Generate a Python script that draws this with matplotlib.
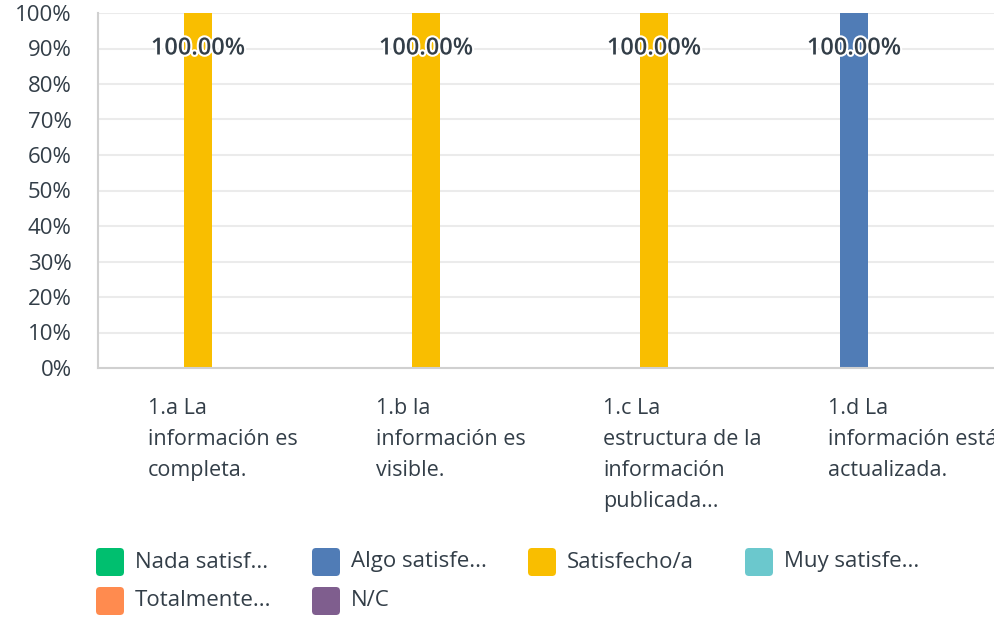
import matplotlib
matplotlib.use("Agg")
import matplotlib.pyplot as plt
import matplotlib.patheffects as pe
from matplotlib.patches import FancyBboxPatch
from matplotlib.transforms import blended_transform_factory, IdentityTransform
import numpy as np

plt.rcParams['font.family'] = ['Open Sans', 'DejaVu Sans']

# data
categories = [
    "1.a La\ninformación es\ncompleta.",
    "1.b la\ninformación es\nvisible.",
    "1.c La\nestructura de la\ninformación\npublicada...",
    "1.d La\ninformación está\nactualizada.",
]
series_names = ["Nada satisf...", "Algo satisfe...", "Satisfecho/a",
                "Muy satisfe...", "Totalmente...", "N/C"]
nada = [0, 0, 0, 0]
algo = [0, 0, 0, 100]
satisfecho = [100, 100, 100, 0]
muy = [0, 0, 0, 0]
totalmente = [0, 0, 0, 0]
nc = [0, 0, 0, 0]
values = [nada, algo, satisfecho, muy, totalmente, nc]
colors = ["#00bf6f", "#507cb6", "#f9be00", "#6bc8cd", "#ff8b4f", "#7f5e8e"]
yticks = list(range(0, 101, 10))

TXT = "#333e48"

fig = plt.figure(figsize=(9.94, 6.18), dpi=100)
ax = fig.add_axes([98 / 994, 1 - 368 / 618, 912 / 994, 355 / 618])

x = np.arange(len(categories))
w = 28 / 228
for i, (vals, c) in enumerate(zip(values, colors)):
    pos = x + (i - 2.5) * w
    ax.bar(pos, vals, width=w, color=c, zorder=2)
    for p, v in zip(pos, vals):
        if v > 0:
            ax.text(p, v - 10, f"{v:.2f}%", ha="center", va="center",
                    fontsize=17, fontweight="semibold", color=TXT, zorder=4,
                    path_effects=[pe.withStroke(linewidth=3, foreground="white")])

ax.set_xlim(-0.5, 3.5)
ax.set_ylim(0, 100)
ax.set_yticks(yticks)
ax.set_yticklabels([f"{t}%" for t in yticks], fontsize=16, color=TXT)
ax.tick_params(axis="y", length=0, pad=19)
ax.set_xticks([])
ax.grid(axis="y", color="#ebebeb", linewidth=1.5, zorder=0)
for s in ["top", "right"]:
    ax.spines[s].set_visible(False)
ax.spines["left"].set_color("#d0d0d0")
ax.spines["bottom"].set_color("#d0d0d0")
ax.spines["left"].set_linewidth(1.5)
ax.spines["bottom"].set_linewidth(1.5)

trans = blended_transform_factory(ax.transData, ax.transAxes)
label_off = [64, 64, 65, 68]
for xi, lab, off in zip(x, categories, label_off):
    ax.text(xi - off / 228, -30 / 355, lab, transform=trans, ha="left", va="top",
            fontsize=15.5, color=TXT, linespacing=1.62, clip_on=False)

# legend
col_x = [96, 312, 528, 745]
row_y = [562, 601]
for k, (name, c) in enumerate(zip(series_names, colors)):
    cx = col_x[k % 4]
    cy = row_y[k // 4]
    fig.add_artist(FancyBboxPatch((cx, 618 - cy - 14), 28, 28,
                                  boxstyle="round,pad=0,rounding_size=4",
                                  facecolor=c, edgecolor="none",
                                  transform=IdentityTransform()))
    fig.text((cx + 39) / 994, 1 - cy / 618, name, ha="left", va="center",
             fontsize=16, color=TXT)

fig.savefig("out.png", dpi=100)
